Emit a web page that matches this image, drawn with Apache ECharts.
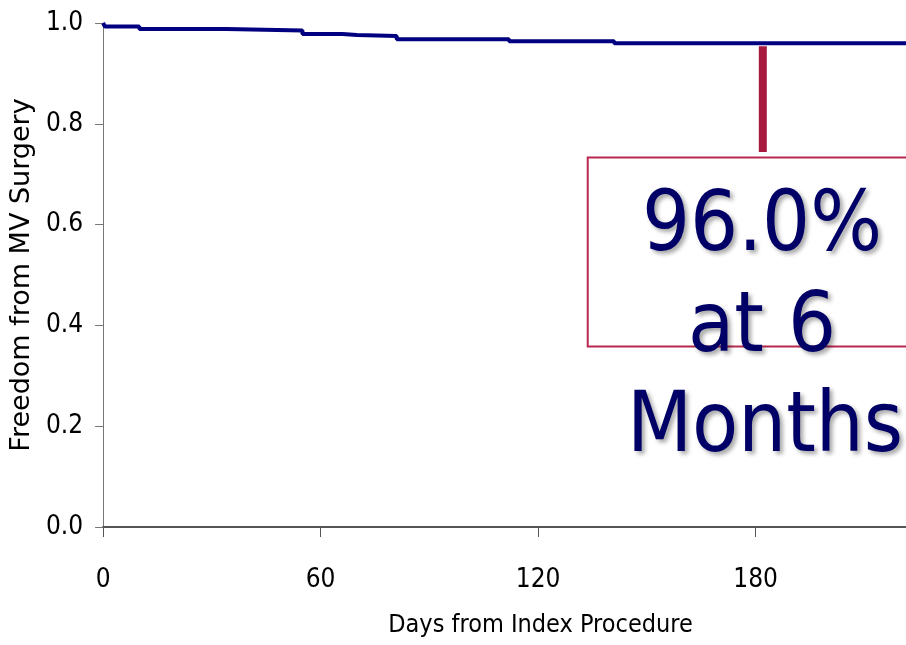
<!DOCTYPE html>
<html><head><meta charset="utf-8">
<script src="https://cdn.jsdelivr.net/npm/echarts@6/dist/echarts.min.js"></script>
<style>html,body{margin:0;padding:0;background:#fff}#c{width:906px;height:645px}</style>
</head><body><div id="c"></div>
<script>
const days = [0, 0.5, 10, 34, 55, 66, 70, 81, 112, 141, 221.5];
const freedom = [1.0, 0.993, 0.988, 0.985, 0.978, 0.976, 0.974, 0.968, 0.964, 0.960, 0.960];
const xTicks = [0, 60, 120, 180];
const yTicks = [0.0, 0.2, 0.4, 0.6, 0.8, 1.0];
const annotDay = 182;
const annotLines = ['96.0%', 'at 6', 'Months'];

const tickFont = '"DejaVu Sans Condensed", "Liberation Sans Narrow", sans-serif';
const chart = echarts.init(document.getElementById('c'));
chart.setOption({
  animation: false,
  grid: {left: 103, top: 23, right: 0, bottom: 118, containLabel: false},
  xAxis: {
    type: 'value', min: 0, max: 221.5, interval: 60,
    axisLine: {lineStyle: {color: '#555', width: 2}},
    axisTick: {inside: false, length: 10, lineStyle: {color: '#555', width: 1}},
    splitLine: {show: false},
    axisLabel: {showMaxLabel: false, margin: 40, fontFamily: tickFont, fontSize: 26, color: '#000',
      formatter: v => xTicks.includes(v) ? String(v) : ''},
    name: 'Days from Index Procedure', nameLocation: 'middle', nameGap: 86,
    nameTextStyle: {fontFamily: tickFont, fontSize: 25, color: '#000', padding: [0, 0, 0, 72]}
  },
  yAxis: {
    type: 'value', min: 0, max: 1, interval: 0.2,
    axisLine: {show: true, lineStyle: {color: '#777', width: 1}},
    axisTick: {show: true, length: 8, lineStyle: {color: '#777'}},
    splitLine: {show: false},
    axisLabel: {margin: 20, fontFamily: tickFont, fontSize: 26, color: '#000',
      formatter: v => yTicks.map(t=>t.toFixed(1)).includes(v.toFixed(1)) ? v.toFixed(1) : ''},
    name: 'Freedom from MV Surgery', nameLocation: 'middle', nameGap: 62, nameRotate: 90,
    nameTextStyle: {fontFamily: '"DejaVu Sans", Verdana, sans-serif', fontSize: 27, color: '#000'}
  },
  series: [{
    type: 'line', step: 'end', symbol: 'none',
    data: days.map((d, i) => [d, freedom[i]]),
    lineStyle: {color: '#000080', width: 4}
  }]
});

function drawAnnot() {
  const bx = chart.convertToPixel({xAxisIndex: 0}, annotDay);
  const by1 = chart.convertToPixel({yAxisIndex: 0}, 0.954);
  const by2 = chart.convertToPixel({yAxisIndex: 0}, 0.744);
  const ry1 = chart.convertToPixel({yAxisIndex: 0}, 0.733);
  const ry2 = chart.convertToPixel({yAxisIndex: 0}, 0.358);
  const rx1 = chart.convertToPixel({xAxisIndex: 0}, 133.7);
  const big = {fontFamily: '"DejaVu Sans Condensed", "DejaVu Sans", sans-serif', fontSize: 84, fill: '#000066',
    textShadowColor: 'rgba(0,0,0,0.35)', textShadowBlur: 4, textShadowOffsetX: 3, textShadowOffsetY: 3,
    align: 'center', verticalAlign: 'middle'};
  chart.setOption({graphic: [
    {type: 'rect', shape: {x: bx - 4, y: by1, width: 8, height: by2 - by1}, style: {fill: '#a8193f'}},
    {type: 'rect', shape: {x: rx1, y: ry1, width: 906 - rx1 + 10, height: ry2 - ry1},
      style: {fill: 'none', stroke: '#b8284f', lineWidth: 2}},
    {type: 'text', x: 762, y: 228, style: Object.assign({text: annotLines[0]}, big)},
    {type: 'text', x: 762, y: 329, style: Object.assign({text: annotLines[1]}, big)},
    {type: 'text', x: 765, y: 429, style: Object.assign({text: annotLines[2]}, big)}
  ]});
}
drawAnnot();
</script></body></html>
